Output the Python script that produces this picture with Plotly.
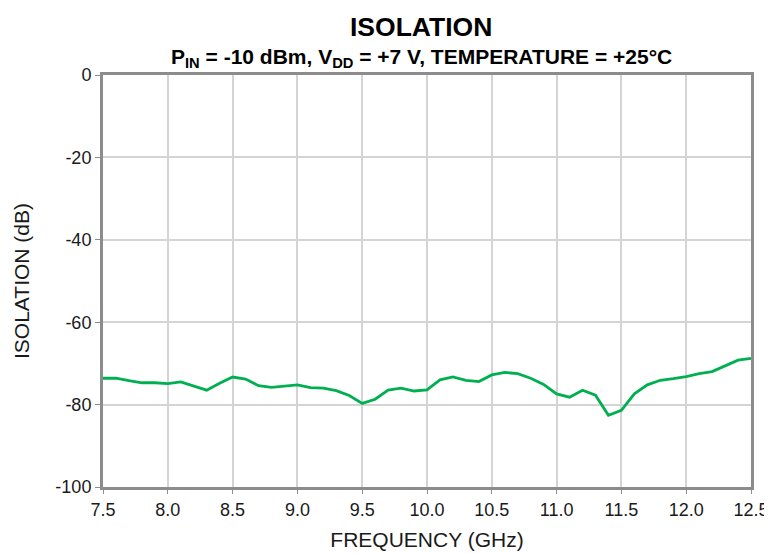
import plotly.graph_objects as go

freq_ghz = [7.5, 7.6, 7.7, 7.8, 7.9, 8.0, 8.1, 8.2, 8.3, 8.4, 8.5, 8.6, 8.7, 8.8, 8.9,
            9.0, 9.1, 9.2, 9.3, 9.4, 9.5, 9.6, 9.7, 9.8, 9.9, 10.0, 10.1, 10.2, 10.3, 10.4,
            10.5, 10.6, 10.7, 10.8, 10.9, 11.0, 11.1, 11.2, 11.3, 11.4, 11.5, 11.6, 11.7,
            11.8, 11.9, 12.0, 12.1, 12.2, 12.3, 12.4, 12.5]
isolation_db = [-73.6, -73.6, -74.2, -74.7, -74.7, -74.9, -74.5, -75.5, -76.5, -74.8, -73.3,
                -73.8, -75.4, -75.8, -75.5, -75.2, -75.9, -76.0, -76.6, -77.8, -79.7, -78.7,
                -76.5, -76.0, -76.7, -76.4, -74.0, -73.3, -74.1, -74.4, -72.8, -72.2, -72.5,
                -73.6, -75.1, -77.4, -78.2, -76.5, -77.7, -82.6, -81.4, -77.4, -75.2, -74.1,
                -73.7, -73.2, -72.5, -72.0, -70.6, -69.2, -68.8]
x_ticks = [7.5, 8.0, 8.5, 9.0, 9.5, 10.0, 10.5, 11.0, 11.5, 12.0, 12.5]
x_tick_labels = ["7.5", "8.0", "8.5", "9.0", "9.5", "10.0", "10.5", "11.0", "11.5", "12.0", "12.5"]
y_ticks = [0, -20, -40, -60, -80, -100]
y_tick_labels = ["0", "-20", "-40", "-60", "-80", "-100"]

FONT = "Liberation Sans, Arial, sans-serif"
TXT = "#1a1a1a"

fig = go.Figure()
fig.add_trace(go.Scatter(x=freq_ghz, y=isolation_db, mode="lines",
                         line=dict(color="#00b050", width=2.8), showlegend=False))

# page body has an 8px margin, so the figure is 8px smaller and margins shifted
fig.update_layout(
    width=764, height=546,
    margin=dict(l=95, r=21, t=67, b=67),
    paper_bgcolor="white", plot_bgcolor="white",
    font=dict(family=FONT, color=TXT),
    annotations=[
        dict(text="<b>ISOLATION</b>", x=0.491, xref="paper", y=1.0, yref="paper",
             yanchor="middle", yshift=48, showarrow=False,
             font=dict(size=26.5, color="black")),
        dict(text="<b>P<sub>IN</sub> = -10 dBm, V<sub>DD</sub> = +7 V, TEMPERATURE = +25°C</b>",
             x=0.491, xref="paper", y=1.0, yref="paper",
             yanchor="middle", yshift=17, showarrow=False,
             font=dict(size=21, color="black")),
    ],
)

fig.update_xaxes(range=[7.5, 12.5], tickvals=x_ticks, ticktext=x_tick_labels,
                 showgrid=True, gridcolor="#d4d4d4", gridwidth=1.5,
                 showline=True, linecolor="#8c8c8c", linewidth=3, mirror=True,
                 ticks="outside", ticklen=4, tickcolor="#8c8c8c", tickwidth=1,
                 tickfont=dict(size=18, color=TXT), automargin=False,
                 title=dict(text="FREQUENCY (GHz)", font=dict(size=21, color=TXT), standoff=14),
                 zeroline=False)
fig.update_yaxes(range=[-100, 0], tickvals=y_ticks, ticktext=y_tick_labels,
                 showgrid=True, gridcolor="#d4d4d4", gridwidth=1.5,
                 showline=True, linecolor="#8c8c8c", linewidth=3, mirror=True,
                 ticks="outside", ticklen=5, tickcolor="#8c8c8c", tickwidth=1,
                 tickfont=dict(size=18, color=TXT), automargin=False,
                 title=dict(text="ISOLATION (dB)", font=dict(size=21, color=TXT), standoff=21),
                 zeroline=False)

fig.write_html("out.html")
